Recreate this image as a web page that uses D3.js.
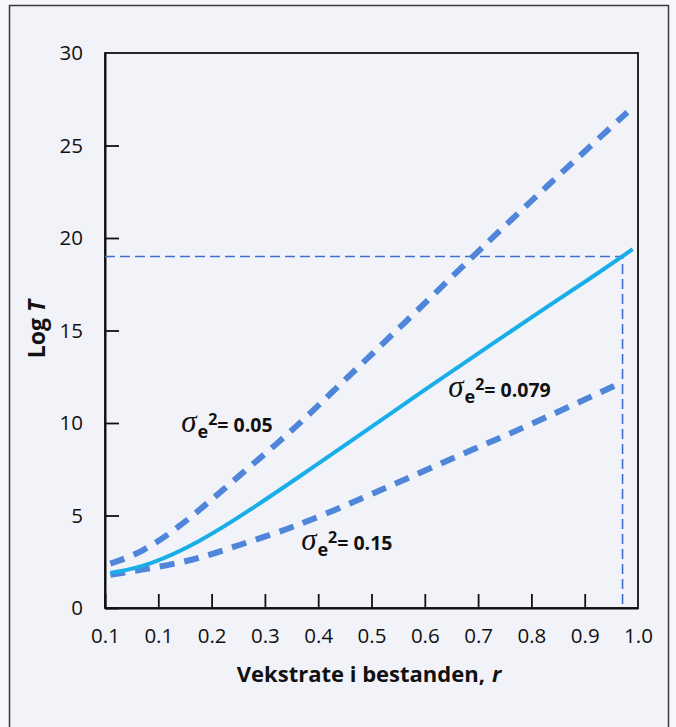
<!DOCTYPE html>
<html>
<head>
<meta charset="utf-8">
<script src="https://cdn.jsdelivr.net/npm/d3@7"></script>
<style>
  html, body { margin: 0; padding: 0; background: #f5f6f9; }
  svg { display: block; }
</style>
</head>
<body>
<svg id="chart" width="676" height="727"></svg>
<script>
// Growth rate r vs. Log T for three environmental variances
const rLow = [0.01, 0.07, 0.14, 0.20, 0.27, 0.35, 0.42, 0.52, 0.61, 0.69, 0.75, 0.82, 0.88, 0.98];
const logTLow = [2.4, 3.0, 4.4, 5.85, 7.6, 9.55, 11.5, 14.25, 16.75, 19.0, 20.65, 22.55, 24.15, 26.8];

const rMid = [0.01, 0.08, 0.18, 0.27, 0.37, 0.46, 0.61, 0.72, 0.82, 0.91, 0.99];
const logTMid = [1.9, 2.25, 3.6, 5.25, 7.2, 9.0, 12.0, 14.15, 16.1, 17.8, 19.4];

const rHigh = [0.01, 0.10, 0.18, 0.25, 0.35, 0.48, 0.59, 0.70, 0.75, 0.85, 0.97];
const logTHigh = [1.8, 2.2, 2.7, 3.4, 4.3, 5.9, 7.3, 8.7, 9.3, 10.6, 12.2];

const seriesNames = ["0.05", "0.079", "0.15"];
const labelR = [0.143, 0.644, 0.368];
const labelLogT = [9.5, 11.4, 3.15];

// Reference point
const guideR = [0.971];
const guideLogT = [19.0];

const xTickValues = [0, 0.1, 0.2, 0.3, 0.4, 0.5, 0.6, 0.7, 0.8, 0.9, 1.0];
const xTickLabels = ["0.1", "0.1", "0.2", "0.3", "0.4", "0.5", "0.6", "0.7", "0.8", "0.9", "1.0"];
const yTickValues = [0, 5, 10, 15, 20, 25, 30];

const svg = d3.select("#chart");
const W = 676, H = 727;
const m = { left: 105, right: 38, top: 53, bottom: 119 };

// page panel
svg.append("rect").attr("x", 0).attr("y", 0).attr("width", W).attr("height", H).attr("fill", "#f6f7fa");
svg.append("rect")
  .attr("x", 9.5).attr("y", 5.5).attr("width", 659).attr("height", 740)
  .attr("fill", "#f1f3f9").attr("stroke", "#3a3a3a").attr("stroke-width", 1.5);

const x = d3.scaleLinear().domain([0, 1]).range([m.left, W - m.right]);
const y = d3.scaleLinear().domain([0, 30]).range([H - m.bottom, m.top]);

const font = "'Open Sans', 'DejaVu Sans', sans-serif";

// frame of the plot area
svg.append("rect")
  .attr("x", x(0)).attr("y", y(30))
  .attr("width", x(1) - x(0)).attr("height", y(0) - y(30))
  .attr("fill", "none").attr("stroke", "#111").attr("stroke-width", 1.8);

// axes with inward ticks
const xAxis = d3.axisBottom(x).tickValues(xTickValues)
  .tickFormat((d, i) => xTickLabels[i]).tickSizeInner(-14).tickSizeOuter(0).tickPadding(20);
const gx = svg.append("g").attr("transform", `translate(0,${y(0)})`).call(xAxis);

const yAxis = d3.axisLeft(y).tickValues(yTickValues).tickSizeInner(-14).tickSizeOuter(0).tickPadding(22);
const gy = svg.append("g").attr("transform", `translate(${x(0)},0)`).call(yAxis);

[gx, gy].forEach(g => {
  g.select(".domain").attr("stroke", "#111").attr("stroke-width", 2);
  g.selectAll(".tick line").attr("stroke", "#111").attr("stroke-width", 1.8);
  g.selectAll(".tick text").attr("fill", "#111").style("font-family", font).style("font-size", "20.5px");
});
gx.selectAll(".tick").filter(d => d === 1).select("line").remove();
gy.selectAll(".tick").filter(d => d === 30).select("line").remove();

// guide lines to the reference point
svg.append("path")
  .attr("d", d3.line()([[x(0), y(guideLogT[0])], [x(guideR[0]), y(guideLogT[0])], [x(guideR[0]), y(0)]]))
  .attr("fill", "none").attr("stroke", "#3f6fcf").attr("stroke-width", 1.6)
  .attr("stroke-dasharray", "10,5");

const line = d3.line().x(d => x(d[0])).y(d => y(d[1])).curve(d3.curveBasis);
const zip = (a, b) => a.map((v, i) => [v, b[i]]);

svg.append("path").datum(zip(rLow, logTLow)).attr("d", line)
  .attr("fill", "none").attr("stroke", "#4f86da").attr("stroke-width", 6).attr("stroke-dasharray", "15,10");
svg.append("path").datum(zip(rHigh, logTHigh)).attr("d", line)
  .attr("fill", "none").attr("stroke", "#4f86da").attr("stroke-width", 6).attr("stroke-dasharray", "15,10");
svg.append("path").datum(zip(rMid, logTMid)).attr("d", line)
  .attr("fill", "none").attr("stroke", "#19aee8").attr("stroke-width", 4);

// curve labels: sigma_e^2 = value
seriesNames.forEach((name, i) => {
  const t = svg.append("text")
    .attr("x", x(labelR[i])).attr("y", y(labelLogT[i]))
    .attr("fill", "#111").style("font-family", font).style("font-weight", "bold");
  t.append("tspan").text("σ")
    .style("font-family", "'Liberation Serif', 'DejaVu Serif', serif")
    .style("font-style", "italic").style("font-weight", "normal").style("font-size", "31px");
  t.append("tspan").text("e").attr("dx", 1).attr("dy", 6).style("font-size", "18px");
  t.append("tspan").text("2").attr("dx", 0).attr("dy", -13).style("font-size", "16px");
  t.append("tspan").text("= " + name).attr("dy", 7).style("font-size", "19.5px");
});

// axis titles
const yt = svg.append("text")
  .attr("transform", `translate(45,329) rotate(-90)`)
  .attr("text-anchor", "middle").attr("fill", "#111")
  .style("font-family", font).style("font-weight", "bold").style("font-size", "23px");
yt.append("tspan").text("Log ");
yt.append("tspan").text("T").style("font-style", "italic");

const xt = svg.append("text")
  .attr("x", 369).attr("y", 682)
  .attr("text-anchor", "middle").attr("fill", "#111")
  .style("font-family", font).style("font-weight", "bold").style("font-size", "22px");
xt.append("tspan").text("Vekstrate i bestanden,");
xt.append("tspan").text("r").attr("dx", 7).style("font-style", "italic");
</script>
</body>
</html>
